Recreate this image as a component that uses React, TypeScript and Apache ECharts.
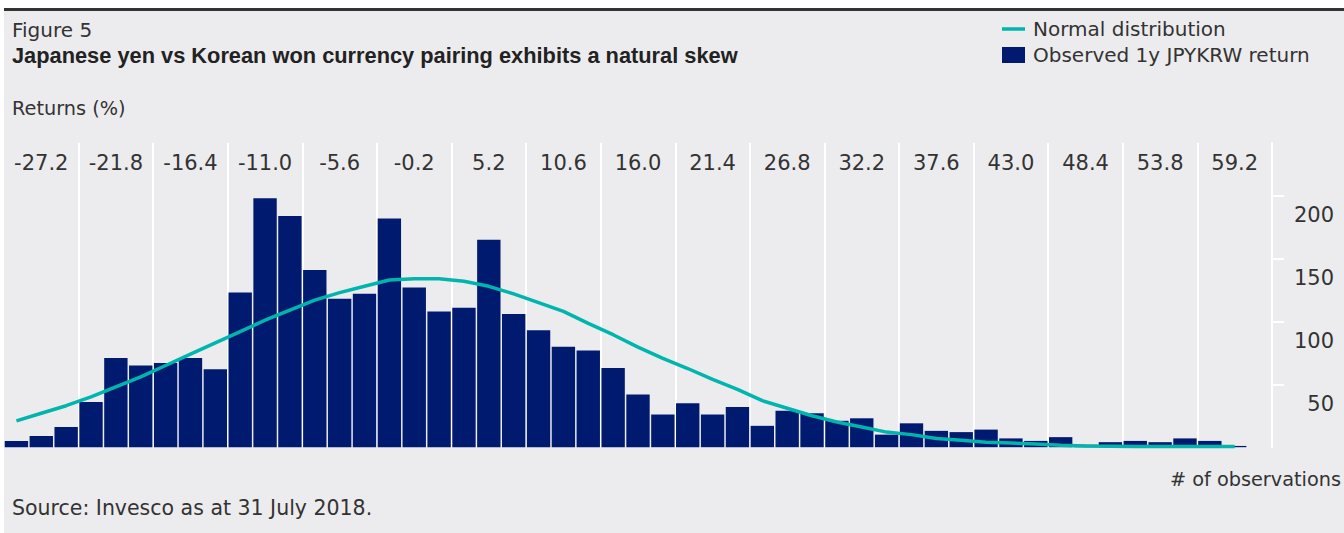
import React, { useEffect, useRef } from "react";
import * as echarts from "echarts";

// Return bins (%), one per bar
const returnBins = [
  "-29.0", "-27.2", "-25.4", "-23.6", "-21.8", "-20.0", "-18.2", "-16.4", "-14.6", "-12.8",
  "-11.0", "-9.2", "-7.4", "-5.6", "-3.8", "-2.0", "-0.2", "1.6", "3.4", "5.2",
  "7.0", "8.8", "10.6", "12.4", "14.2", "16.0", "17.8", "19.6", "21.4", "23.2",
  "25.0", "26.8", "28.6", "30.4", "32.2", "34.0", "35.8", "37.6", "39.4", "41.2",
  "43.0", "44.8", "46.6", "48.4", "50.2", "52.0", "53.8", "55.6", "57.4", "59.2", "61.0",
];

// Observed 1y JPYKRW return (# of observations)
const observed = [
  5, 9, 16, 36, 71, 65, 67, 71, 62, 123,
  198, 184, 141, 118, 122, 182, 127, 108, 111, 165,
  106, 93, 80, 77, 63, 42, 26, 35, 26, 32,
  17, 29, 27, 21, 23, 10, 19, 13, 12, 14,
  7, 5, 8, 2, 4, 5, 4, 7, 5, 1, 0,
];

// Normal distribution fit
const normalDist: (number | string)[] = [
  21, 27, 33, 40, 48, 56, 65, 74, 83, 92,
  101, 109, 117, 123, 128, 133, 134, 134, 132, 128,
  122, 115, 108, 98.5, 89.5, 79.6, 70.6, 62.6, 54, 46,
  37, 31, 25, 20, 16, 12, 10, 7, 5.5, 4,
  3.3, 2.5, 1.5, 1, 0.8, 0.6, 0.5, 0.5, 0.5, 0.5, "-",
];

const yTickValues = [50, 100, 150, 200];

const FONT = "DejaVu Sans";
const TEXT = "#333333";
const NAVY = "#001A70";
const TEAL = "#00B5AD";

export default function App() {
  const ref = useRef<HTMLDivElement>(null);
  useEffect(() => {
    const chart = echarts.init(ref.current as HTMLDivElement, null, { renderer: "svg" });
    chart.setOption({
      animation: false,
      textStyle: { fontFamily: FONT, color: TEXT },
      legend: {
        orient: "vertical",
        left: 1002,
        top: 19,
        padding: 0,
        itemWidth: 23,
        itemHeight: 16,
        itemGap: 6,
        symbolKeepAspect: true,
        textStyle: { fontFamily: FONT, fontSize: 20, color: TEXT, padding: [0, 0, 0, 3] },
        data: [
          { name: "Normal distribution", icon: "path://M0,0H23V3.5H0Z" },
          { name: "Observed 1y JPYKRW return", icon: "rect" },
        ],
      },
      grid: { left: 4, right: 72, top: 143, bottom: 85.8 },
      xAxis: {
        type: "category",
        position: "top",
        data: returnBins,
        boundaryGap: true,
        axisLine: { show: false },
        axisTick: { show: false },
        axisLabel: {
          inside: true,
          margin: 20,
          verticalAlign: "middle",
          fontFamily: FONT,
          fontSize: 21,
          color: TEXT,
          interval: (i: number) => i % 3 === 1,
        },
        splitLine: {
          show: true,
          interval: (i: number) => i % 3 === 0 && i > 0,
          lineStyle: { color: "#FFFFFF", width: 2 },
        },
      },
      yAxis: {
        type: "value",
        position: "right",
        min: 0,
        max: 242,
        interval: 50,
        axisLine: { show: true, lineStyle: { color: "#FFFFFF", width: 2 } },
        axisTick: {
          show: true,
          length: 12,
          customValues: yTickValues,
          lineStyle: { color: "#FFFFFF", width: 2 },
        },
        axisLabel: {
          customValues: yTickValues,
          align: "right",
          margin: 62,
          verticalAlign: "top",
          padding: [9, 0, 0, 0],
          fontFamily: FONT,
          fontSize: 21,
          color: TEXT,
          formatter: (v: number) => (v === 0 || v > 200 ? "" : String(v)),
        },
        splitLine: { show: false },
      },
      series: [
        {
          name: "Observed 1y JPYKRW return",
          type: "bar",
          data: observed,
          barCategoryGap: "6%",
          itemStyle: { color: NAVY },
        },
        {
          name: "Normal distribution",
          type: "line",
          data: normalDist,
          symbol: "none",
          smooth: false,
          lineStyle: { color: TEAL, width: 3.5 },
          itemStyle: { color: TEAL },
        },
      ],
      graphic: [
        {
          type: "text",
          x: 12,
          y: 30,
          style: { text: "Figure 5", fontFamily: FONT, fontSize: 20, fill: TEXT, verticalAlign: "middle" },
        },
        {
          type: "text",
          x: 12,
          y: 55,
          style: {
            text: "Japanese yen vs Korean won currency pairing exhibits a natural skew",
            fontFamily: "Liberation Sans",
            fontWeight: "bold",
            fontSize: 21.8,
            fill: "#222222",
            verticalAlign: "middle",
          },
        },
        {
          type: "text",
          x: 12,
          y: 108,
          style: { text: "Returns (%)", fontFamily: FONT, fontSize: 19.3, fill: TEXT, verticalAlign: "middle" },
        },
        {
          type: "text",
          x: 1341,
          y: 479,
          style: { text: "# of observations", fontFamily: FONT, fontSize: 19.3, fill: TEXT, align: "right", verticalAlign: "middle" },
        },
        {
          type: "text",
          x: 12,
          y: 508,
          style: { text: "Source: Invesco as at 31 July 2018.", fontFamily: FONT, fontSize: 20.5, fill: TEXT, verticalAlign: "middle" },
        },
      ],
    });
    return () => chart.dispose();
  }, []);
  return (
    <div style={{ position: "fixed", left: 0, top: 0, width: 1344, height: 533, background: "#FFFFFF" }}>
      <div
        style={{
          position: "absolute",
          left: 4,
          top: 8,
          right: 0,
          bottom: 0,
          background: "#ECECEE",
          borderTop: "3px solid #333333",
        }}
      />
      <div ref={ref} style={{ position: "absolute", left: 0, top: 0, width: 1344, height: 533 }} />
    </div>
  );
}
